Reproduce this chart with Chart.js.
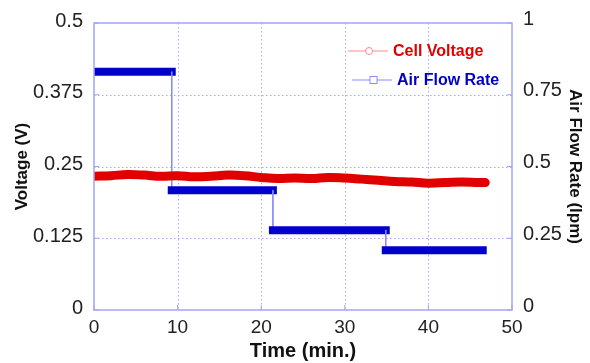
<!DOCTYPE html>
<html>
<head>
<meta charset="utf-8">
<script src="https://cdn.jsdelivr.net/npm/chart.js@4.4.1/dist/chart.umd.min.js"></script>
<style>
  html, body { margin: 0; padding: 0; background: #fff; }
  #wrap { width: 590px; height: 363px; position: relative; }
</style>
</head>
<body>
<div id="wrap"><canvas id="chart"></canvas></div>
<script>
// cell voltage (V)
const voltTimes = [0, 2, 4, 6, 8, 10, 12, 14, 16, 18, 20, 22, 24, 26, 28, 30, 32, 34, 36, 38, 40, 42, 44, 46, 46.8];
const voltValues = [0.233, 0.234, 0.236, 0.235, 0.233, 0.234, 0.232, 0.233, 0.235, 0.234, 0.231, 0.229, 0.230,
                    0.229, 0.231, 0.230, 0.228, 0.226, 0.224, 0.223, 0.221, 0.222, 0.223, 0.222, 0.222];

// air flow steps (lpm)
const flowTimes = [0, 9.3, 9.3, 21.4, 21.4, 34.9, 34.9, 46.5];
const flowValues = [0.83, 0.83, 0.417, 0.417, 0.278, 0.278, 0.208, 0.208];

const voltTicks = [0, 0.125, 0.25, 0.375, 0.5];
const flowTicks = [0, 0.25, 0.5, 0.75, 1];
const timeTicks = [0, 10, 20, 30, 40, 50];

const FONT = "'Liberation Sans', Arial, sans-serif";
const FRAME = '#a4a4f4';
const GRID = '#a8a8fa';

const voltData = voltTimes.map((t, i) => ({ x: t, y: voltValues[i] }));
const flowData = flowTimes.map((t, i) => ({ x: t, y: flowValues[i] }));

// dotted grid under the data
const gridPlugin = {
    id: 'dotgrid',
    beforeDatasetsDraw(chart) {
        const { ctx, chartArea: a, scales } = chart;
        ctx.save();
        ctx.strokeStyle = GRID;
        ctx.lineWidth = 1;
        ctx.setLineDash([1.5, 2.5]);
        timeTicks.slice(1, -1).forEach(t => {
            const x = Math.round(scales.x.getPixelForValue(t)) + 0.5;
            ctx.beginPath(); ctx.moveTo(x, a.top); ctx.lineTo(x, a.bottom); ctx.stroke();
        });
        voltTicks.slice(1, -1).forEach(v => {
            const y = Math.round(scales.y.getPixelForValue(v)) + 0.5;
            ctx.beginPath(); ctx.moveTo(a.left, y); ctx.lineTo(a.right, y); ctx.stroke();
        });
        ctx.restore();
    }
};

// frame, inward ticks and the legend box
const framePlugin = {
    id: 'frame',
    afterDatasetsDraw(chart) {
        const { ctx, chartArea: a, scales } = chart;
        ctx.save();
        ctx.strokeStyle = FRAME;
        ctx.lineWidth = 1.5;
        ctx.strokeRect(a.left, a.top, a.right - a.left, a.bottom - a.top);
        ctx.lineWidth = 1;
        timeTicks.forEach(t => {
            const x = scales.x.getPixelForValue(t);
            ctx.beginPath(); ctx.moveTo(x, a.bottom); ctx.lineTo(x, a.bottom - 5); ctx.stroke();
        });
        voltTicks.forEach(v => {
            const y = scales.y.getPixelForValue(v);
            ctx.beginPath(); ctx.moveTo(a.left, y); ctx.lineTo(a.left + 5, y); ctx.stroke();
        });
        flowTicks.forEach(v => {
            const y = scales.y2.getPixelForValue(v);
            ctx.beginPath(); ctx.moveTo(a.right, y); ctx.lineTo(a.right - 5, y); ctx.stroke();
        });

        // legend
        const lx = a.left + 254, ly = a.top + 28;
        ctx.lineWidth = 1;
        ctx.strokeStyle = '#ff8a8a';
        ctx.beginPath(); ctx.moveTo(lx, ly); ctx.lineTo(lx + 40, ly); ctx.stroke();
        ctx.fillStyle = '#fff';
        ctx.beginPath(); ctx.arc(lx + 21, ly, 3.5, 0, Math.PI * 2); ctx.fill(); ctx.stroke();
        ctx.font = "bold 16px " + FONT;
        ctx.textBaseline = 'middle';
        ctx.fillStyle = '#e00000';
        ctx.fillText('Cell Voltage', lx + 45, ly + 1);

        const by = ly + 29;
        ctx.strokeStyle = '#8a8aff';
        ctx.beginPath(); ctx.moveTo(lx + 4, by); ctx.lineTo(lx + 44, by); ctx.stroke();
        ctx.fillStyle = '#fff';
        ctx.fillRect(lx + 22, by - 3.5, 7, 7);
        ctx.strokeRect(lx + 22, by - 3.5, 7, 7);
        ctx.fillStyle = '#0000cc';
        ctx.fillText('Air Flow Rate', lx + 49, by + 1);
        ctx.restore();
    }
};

new Chart(document.getElementById('chart'), {
    type: 'line',
    data: {
        datasets: [
            {
                label: 'Cell Voltage',
                data: voltData,
                yAxisID: 'y',
                borderColor: '#e00000',
                borderWidth: 9,
                borderCapStyle: 'round',
                tension: 0.4,
                pointRadius: 0,
                order: 0
            },
            {
                label: 'Air Flow Rate',
                data: flowData,
                yAxisID: 'y2',
                borderColor: '#0000cc',
                borderWidth: 8,
                borderCapStyle: 'square',
                pointRadius: 0,
                tension: 0,
                order: 1,
                segment: {
                    borderWidth: c => c.p0.parsed.y === c.p1.parsed.y ? 8 : 1,
                    borderColor: c => c.p0.parsed.y === c.p1.parsed.y ? '#0000cc' : '#8a8aff'
                }
            }
        ]
    },
    options: {
        responsive: true,
        maintainAspectRatio: false,
        animation: false,
        layout: { padding: { top: 22, left: 0, right: 0, bottom: 0 } },
        plugins: { legend: { display: false }, tooltip: { enabled: false } },
        scales: {
            x: {
                type: 'linear', min: 0, max: 50,
                afterBuildTicks: s => { s.ticks = timeTicks.map(v => ({ value: v })); },
                afterFit: s => { s.height = 53; },
                grid: { display: false, drawTicks: false },
                border: { display: false },
                ticks: { padding: 6, color: '#222', font: { family: FONT, size: 19 }, maxRotation: 0 },
                title: { display: true, text: 'Time (min.)', color: '#111', padding: { top: 0, bottom: 0 },
                         font: { family: FONT, size: 20, weight: 'bold' } }
            },
            y: {
                type: 'linear', position: 'left', min: 0, max: 0.5,
                afterBuildTicks: s => { s.ticks = voltTicks.map(v => ({ value: v })); },
                afterFit: s => { s.width = 94; },
                grid: { display: false, drawTicks: false },
                border: { display: false },
                ticks: { padding: 11, labelOffset: -2, color: '#222', font: { family: FONT, size: 20 },
                         callback: v => String(v) },
                title: { display: true, text: 'Voltage (V)', color: '#111', padding: { top: 12, bottom: 0 },
                         font: { family: FONT, size: 17, weight: 'bold' } }
            },
            y2: {
                type: 'linear', position: 'right', min: 0, max: 1,
                afterBuildTicks: s => { s.ticks = flowTicks.map(v => ({ value: v })); },
                afterFit: s => { s.width = 78; },
                grid: { display: false, drawTicks: false },
                border: { display: false },
                ticks: { padding: 11, labelOffset: -4, color: '#222', font: { family: FONT, size: 20 },
                         callback: v => String(v) },
                title: { display: true, text: 'Air Flow Rate (lpm)', color: '#111', padding: { top: 5, bottom: 0 },
                         font: { family: FONT, size: 17, weight: 'bold' } }
            }
        }
    },
    plugins: [gridPlugin, framePlugin]
});
</script>
</body>
</html>
